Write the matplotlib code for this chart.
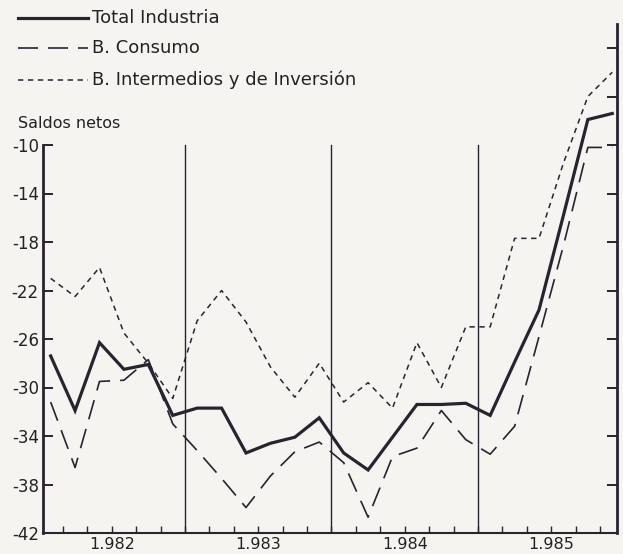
import matplotlib
matplotlib.use("Agg")
import matplotlib.pyplot as plt
import numpy as np
from matplotlib.lines import Line2D

# bimonthly observations, 1982-1985 (centred in each two-month period)
years = [1982, 1983, 1984, 1985]
periods = [y + (2 * k + 1) / 12 for y in years for k in range(6)]

total = [-27.4, -31.9, -26.3, -28.5, -28.1, -32.3,
         -31.7, -31.7, -35.4, -34.6, -34.1, -32.5,
         -35.4, -36.8, -34.1, -31.4, -31.4, -31.3,
         -32.3, -27.9, -23.6, -15.8, -7.9, -7.4]
consumo = [-31.2, -36.6, -29.5, -29.4, -27.7, -33.0,
           -35.2, -37.5, -39.9, -37.3, -35.3, -34.5,
           -36.2, -40.7, -35.7, -35.0, -31.9, -34.3,
           -35.5, -33.2, -25.8, -18.3, -10.2, -10.2]
intermedios = [-21.0, -22.5, -20.1, -25.5, -28.0, -30.9,
               -24.5, -22.0, -24.6, -28.3, -30.8, -28.0,
               -31.2, -29.6, -31.7, -26.3, -30.0, -25.0,
               -25.0, -17.7, -17.7, -11.5, -6.0, -4.0]

year_labels = ["1.982", "1.983", "1.984", "1.985"]
left_ticks = list(range(-42, -9, 4))
right_ticks = list(range(-42, 0, 4))

ink = "#2b2230"
bg = "#f6f4f1"

W, H = 623, 554
fig = plt.figure(figsize=(W / 100, H / 100), dpi=100, facecolor=bg)
ax = fig.add_axes([43 / W, 21 / H, (617 - 43) / W, (533 - 23.75) / H])
ax.set_facecolor(bg)

ax.plot(periods, total, color=ink, lw=2.3, solid_joinstyle="miter")
ax.plot(periods, consumo, color=ink, lw=1.2, dashes=(12, 6))
ax.plot(periods, intermedios, color=ink, lw=1.1, dashes=(3.5, 3))

# year separators
for y in years[1:]:
    ax.plot([y, y], [-42, -10], color=ink, lw=1.0)

ax.set_xlim(1982.031, 1985.949)
ax.set_ylim(-42, 0)

ax.spines["top"].set_visible(False)
ax.spines["left"].set_bounds(-42, -10)
for s in ["left", "right"]:
    ax.spines[s].set_linewidth(2.0)
    ax.spines[s].set_color(ink)
ax.spines["bottom"].set_linewidth(1.5)
ax.spines["bottom"].set_color(ink)

ax.set_yticks(left_ticks)
ax.set_yticklabels([str(v) for v in left_ticks], fontsize=12, color="#222")
ax.tick_params(axis="y", direction="in", length=7, width=1.4, color=ink, pad=3)

# right-hand ticks (no labels)
ax2 = ax.twinx()
ax2.set_ylim(-42, 0)
ax2.set_yticks(right_ticks)
ax2.set_yticklabels([])
ax2.tick_params(axis="y", direction="in", length=7, width=1.4, color=ink)
for s in ["top", "left", "bottom", "right"]:
    ax2.spines[s].set_visible(False)

xt = [x for x in np.arange(1982, 1986.01, 1 / 6) if 1982.05 < x < 1985.94]
ax.set_xticks(xt)
ax.set_xticklabels([])
ax.tick_params(axis="x", direction="in", length=5, width=1.0, color=ink)

for y, lab in zip(years, year_labels):
    ax.text(y + 0.5, -42.35, lab, transform=ax.transData, ha="center", va="top",
            fontsize=11.5, color="#222")

fig.text(18 / W, 1 - 123 / H, "Saldos netos", fontsize=11.5, color="#222",
         va="center", ha="left")

# legend drawn by hand, as in the original
leg = [("Total Industria", dict(lw=2.3)),
       ("B. Consumo", dict(lw=1.2, dashes=(12, 6))),
       ("B. Intermedios y de Inversión", dict(lw=1.1, dashes=(3.5, 3)))]
for i, (lab, kw) in enumerate(leg):
    yy = 1 - [18, 48, 80][i] / H
    fig.add_artist(Line2D([18 / W, 88 / W], [yy, yy], color=ink,
                          transform=fig.transFigure, **kw))
    fig.text(92 / W, yy, lab, fontsize=13, color="#222", va="center", ha="left")

fig.savefig("out.png", dpi=100, facecolor=bg)
